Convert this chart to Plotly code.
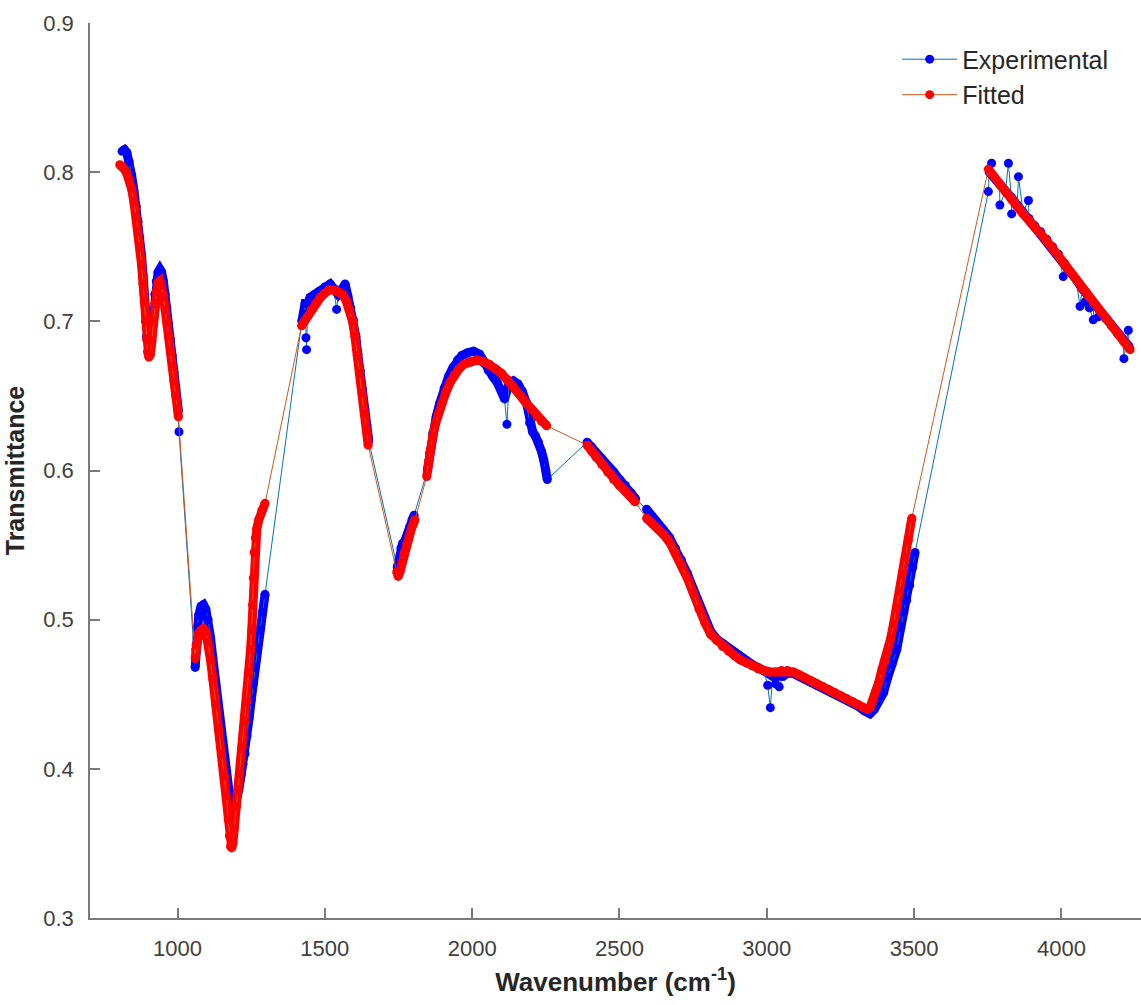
import plotly.graph_objects as go

# ---------------- data ----------------
exp_wn = [812, 820, 828, 836, 844, 852, 860, 866, 872, 878, 883, 887, 891, 895, 899, 903, 908, 913, 918, 923, 928, 934, 940, 946, 952, 958, 964, 970, 976, 982, 988, 994, 1000, 1003,
          1060, 1062, 1066, 1072, 1080, 1088, 1096, 1104, 1112, 1120, 1130, 1140, 1150, 1160, 1168, 1176, 1184, 1192, 1200, 1208, 1216, 1222, 1229, 1236, 1243, 1250, 1257, 1264, 1272, 1280, 1288, 1297,
          1422, 1428, 1433, 1442, 1450, 1465, 1480, 1500, 1518, 1530, 1545, 1560, 1569, 1578, 1588, 1597, 1605, 1612, 1620, 1628, 1636, 1643, 1649,
          1746, 1752, 1758, 1764, 1772, 1780, 1788, 1796, 1803,
          1848, 1856, 1866, 1878, 1890, 1905, 1920, 1935, 1950, 1965, 1985, 2005, 2025, 2040, 2055, 2070, 2085, 2100, 2110, 2125, 2140, 2155, 2170, 2185, 2195, 2205, 2215, 2225, 2235, 2243, 2250, 2255,
          2390, 2405, 2420, 2440, 2460, 2480, 2500, 2520, 2540, 2555,
          2592, 2610, 2630, 2650, 2670, 2690, 2710, 2730, 2750, 2770, 2790, 2810, 2830, 2850, 2870, 2890, 2910, 2930, 2950, 2970, 2990, 3020, 3055, 3070, 3090, 3110, 3130, 3150, 3170, 3190, 3210, 3230, 3250, 3270, 3290, 3310, 3330, 3350, 3365, 3380, 3396, 3410, 3425, 3441, 3455, 3465, 3475, 3485, 3495, 3503,
          3755, 3770, 3790, 3810, 3830, 3850, 3870, 3890, 3910, 3930, 3950, 3970, 3990, 4010, 4030, 4050, 4070, 4090, 4110, 4130, 4150, 4170, 4190, 4210, 4230]
exp_T = [0.814, 0.815, 0.813, 0.807, 0.798, 0.788, 0.777, 0.767, 0.756, 0.744, 0.731, 0.718, 0.704, 0.690, 0.680, 0.677, 0.680, 0.692, 0.706, 0.718, 0.727, 0.733, 0.735, 0.733, 0.727, 0.718, 0.709, 0.698, 0.688, 0.677, 0.666, 0.655, 0.645, 0.640,
         0.468, 0.480, 0.495, 0.503, 0.509, 0.510, 0.507, 0.500, 0.488, 0.474, 0.456, 0.438, 0.420, 0.403, 0.390, 0.377, 0.370, 0.372, 0.378, 0.386, 0.396, 0.403, 0.410, 0.422, 0.434, 0.446, 0.457, 0.468, 0.481, 0.493, 0.505, 0.517,
         0.700, 0.705, 0.712, 0.712, 0.716, 0.718, 0.720, 0.723, 0.725, 0.722, 0.718, 0.722, 0.725, 0.717, 0.709, 0.701, 0.690, 0.678, 0.667, 0.654, 0.641, 0.630, 0.620,
         0.535, 0.540, 0.548, 0.551, 0.553, 0.557, 0.562, 0.567, 0.570,
         0.600, 0.612, 0.625, 0.636, 0.645, 0.655, 0.663, 0.669, 0.674, 0.677, 0.679, 0.680, 0.678, 0.672, 0.667, 0.663, 0.659, 0.653, 0.648, 0.658, 0.660, 0.658, 0.653, 0.645, 0.632, 0.626, 0.623, 0.619, 0.613, 0.607, 0.600, 0.594,
         0.619, 0.616, 0.612, 0.608, 0.603, 0.599, 0.594, 0.590, 0.585, 0.581,
         0.574, 0.569, 0.564, 0.560, 0.555, 0.548, 0.540, 0.531, 0.521, 0.510, 0.500, 0.492, 0.487, 0.484, 0.481, 0.478, 0.475, 0.472, 0.470, 0.468, 0.466, 0.462, 0.462, 0.464, 0.464, 0.462, 0.460, 0.458, 0.456, 0.455, 0.453, 0.451, 0.449, 0.447, 0.445, 0.442, 0.439, 0.437, 0.440, 0.446, 0.451, 0.461, 0.470, 0.480, 0.495, 0.505, 0.513, 0.523, 0.535, 0.545,
         0.800, 0.797, 0.792, 0.787, 0.783, 0.778, 0.773, 0.769, 0.764, 0.760, 0.755, 0.750, 0.745, 0.739, 0.733, 0.728, 0.722, 0.717, 0.712, 0.707, 0.702, 0.697, 0.692, 0.687, 0.683]

# isolated experimental points (noise spikes)
exp_out_wn = [1005, 1436, 1438, 1540, 2118, 3003, 3012, 3030, 3042, 3752, 3763, 3791, 3820, 3831, 3854, 3888, 4006, 4063, 4080, 4095, 4108, 4125, 4212, 4227]
exp_out_T = [0.626, 0.689, 0.681, 0.708, 0.631, 0.456, 0.441, 0.457, 0.455, 0.787, 0.806, 0.778, 0.806, 0.772, 0.797, 0.781, 0.730, 0.710, 0.713, 0.709, 0.701, 0.703, 0.675, 0.694]

fit_wn = [804, 812, 820, 828, 836, 844, 852, 860, 866, 872, 878, 883, 887, 891, 895, 899, 903, 908, 913, 918, 923, 928, 934, 940, 946, 952, 958, 964, 970, 976, 982, 988, 994, 1000, 1003,
          1060, 1063, 1067, 1072, 1080, 1088, 1096, 1104, 1112, 1120, 1130, 1140, 1150, 1160, 1166, 1172, 1176, 1180, 1184, 1188, 1193, 1200, 1206, 1212, 1220, 1228, 1235, 1242, 1248, 1252, 1255, 1257, 1260, 1264, 1269, 1276, 1286, 1297,
          1421, 1430, 1440, 1455, 1470, 1485, 1500, 1515, 1530, 1545, 1560, 1572, 1584, 1594, 1602, 1610, 1618, 1626, 1634, 1641, 1647,
          1744, 1749, 1755, 1762, 1770, 1778, 1786, 1794, 1800, 1806,
          1846, 1852, 1858, 1866, 1875, 1885, 1897, 1910, 1925, 1940, 1955, 1970, 1990, 2015, 2040, 2060, 2080, 2100, 2120, 2140, 2160, 2180, 2200, 2220, 2235, 2253,
          2390, 2405, 2420, 2440, 2460, 2480, 2500, 2520, 2540, 2553,
          2592, 2610, 2630, 2650, 2670, 2690, 2710, 2730, 2750, 2770, 2790, 2810, 2830, 2850, 2870, 2890, 2910, 2930, 2950, 2970, 2990, 3010, 3030, 3050, 3070, 3090, 3110, 3130, 3150, 3170, 3190, 3210, 3230, 3250, 3270, 3290, 3310, 3325, 3340, 3350, 3360, 3370, 3380, 3390, 3400, 3410, 3420, 3430, 3440, 3450, 3460, 3470, 3480, 3492,
          3752, 3770, 3790, 3810, 3830, 3850, 3870, 3890, 3910, 3930, 3950, 3970, 3990, 4010, 4030, 4050, 4070, 4090, 4110, 4130, 4150, 4170, 4190, 4210, 4233]
fit_T = [0.805, 0.804, 0.802, 0.799, 0.795, 0.789, 0.780, 0.770, 0.760, 0.750, 0.738, 0.725, 0.713, 0.700, 0.688, 0.679, 0.676, 0.678, 0.687, 0.700, 0.712, 0.720, 0.726, 0.727, 0.724, 0.717, 0.708, 0.699, 0.690, 0.680, 0.670, 0.660, 0.650, 0.641, 0.636,
         0.474, 0.483, 0.488, 0.491, 0.493, 0.494, 0.492, 0.485, 0.473, 0.460, 0.443, 0.427, 0.410, 0.395, 0.382, 0.366, 0.355, 0.348, 0.347, 0.350, 0.360, 0.375, 0.386, 0.397, 0.415, 0.432, 0.445, 0.465, 0.480, 0.493, 0.510, 0.528, 0.545, 0.555, 0.561, 0.567, 0.573, 0.578,
         0.697, 0.700, 0.703, 0.708, 0.712, 0.716, 0.719, 0.721, 0.721, 0.720, 0.718, 0.714, 0.708, 0.700, 0.690, 0.677, 0.665, 0.652, 0.638, 0.627, 0.617,
         0.532, 0.529, 0.532, 0.538, 0.545, 0.551, 0.556, 0.561, 0.564, 0.567,
         0.596, 0.606, 0.614, 0.623, 0.631, 0.638, 0.645, 0.652, 0.659, 0.664, 0.668, 0.671, 0.673, 0.674, 0.673, 0.671, 0.668, 0.665, 0.661, 0.656, 0.651, 0.646, 0.641, 0.636, 0.633, 0.630,
         0.617, 0.613, 0.609, 0.604, 0.599, 0.594, 0.590, 0.586, 0.582, 0.579,
         0.568, 0.565, 0.561, 0.557, 0.552, 0.545, 0.537, 0.528, 0.518, 0.507, 0.498, 0.490, 0.486, 0.482, 0.479, 0.476, 0.473, 0.471, 0.469, 0.467, 0.466, 0.465, 0.465, 0.466, 0.466, 0.465, 0.463, 0.461, 0.459, 0.457, 0.455, 0.453, 0.451, 0.449, 0.447, 0.445, 0.443, 0.441, 0.440, 0.441, 0.446, 0.452, 0.458, 0.466, 0.472, 0.479, 0.487, 0.497, 0.508, 0.519, 0.531, 0.542, 0.553, 0.568,
         0.802, 0.797, 0.792, 0.787, 0.782, 0.777, 0.772, 0.768, 0.763, 0.759, 0.754, 0.749, 0.744, 0.738, 0.733, 0.728, 0.722, 0.717, 0.712, 0.707, 0.702, 0.697, 0.692, 0.687, 0.681]

# gaps in the measured spectrum (wavenumbers lying inside each gap)
gap_marks = [1030, 1360, 1700, 1825, 2320, 2575, 3620]

x_ticks = [1000, 1500, 2000, 2500, 3000, 3500, 4000]
y_ticks = [0.3, 0.4, 0.5, 0.6, 0.7, 0.8, 0.9]

# ---------------- helpers ----------------
def band(xs, ys):
    bx, by = [], []
    for i, (a, b) in enumerate(zip(xs, ys)):
        if i > 0 and any(xs[i - 1] < g < a for g in gap_marks):
            bx.append(None)
            by.append(None)
        bx.append(a)
        by.append(b)
    return bx, by

def merged(xs, ys, ox, oy):
    pts = sorted(list(zip(xs, ys)) + list(zip(ox, oy)))
    return [p[0] for p in pts], [p[1] for p in pts]

MS = 9
fig = go.Figure()

ebx, eby = band(exp_wn, exp_T)
fig.add_trace(go.Scatter(x=ebx, y=eby, mode="lines", line=dict(color="#0000ff", width=MS),
                         showlegend=False, hoverinfo="skip", connectgaps=False))
emx, emy = merged(exp_wn, exp_T, exp_out_wn, exp_out_T)
fig.add_trace(go.Scatter(x=emx, y=emy, mode="lines+markers", name="Experimental",
                         line=dict(color="#0072BD", width=1),
                         marker=dict(color="#0000ff", size=MS, line=dict(width=0))))

fbx, fby = band(fit_wn, fit_T)
fig.add_trace(go.Scatter(x=fbx, y=fby, mode="lines", line=dict(color="#ff0000", width=MS),
                         showlegend=False, hoverinfo="skip", connectgaps=False))
fig.add_trace(go.Scatter(x=fit_wn, y=fit_T, mode="lines+markers", name="Fitted",
                         line=dict(color="#D95319", width=1),
                         marker=dict(color="#ff0000", size=MS, line=dict(width=0))))

axis_font = dict(family="Liberation Sans, Arial, sans-serif", size=22, color="#404040")
fig.update_layout(
    width=1141, height=1005,
    margin=dict(l=90, r=0, t=23, b=87),
    paper_bgcolor="white", plot_bgcolor="white",
    font=dict(family="Liberation Sans, Arial, sans-serif", color="#262626"),
    legend=dict(x=0.768, y=0.985, xanchor="left", yanchor="top",
                font=dict(size=25, color="#262626"), bgcolor="rgba(255,255,255,0)",
                itemwidth=55, tracegroupgap=0),
    xaxis=dict(range=[703, 4270], tickvals=x_ticks, ticktext=[str(v) for v in x_ticks],
               ticks="inside", ticklen=10, tickcolor="#7a7a7a", tickwidth=1.5,
               showline=True, linecolor="#7a7a7a", linewidth=1.5, mirror=False,
               showgrid=False, zeroline=False, tickfont=axis_font, ticklabelstandoff=10,
               title=dict(text="<b>Wavenumber (cm<sup>-1</sup>)</b>",
                          font=dict(size=26, color="#262626"), standoff=13)),
    yaxis=dict(range=[0.3, 0.9], tickvals=y_ticks, ticktext=["%.1f" % v for v in y_ticks],
               ticks="inside", ticklen=10, tickcolor="#7a7a7a", tickwidth=1.5,
               showline=True, linecolor="#7a7a7a", linewidth=1.5, mirror=False,
               showgrid=False, zeroline=False, tickfont=axis_font, ticklabelstandoff=10,
               title=dict(text="<b>Transmittance</b>",
                          font=dict(size=25, color="#262626"), standoff=12)),
)

fig.write_html("out.html")
